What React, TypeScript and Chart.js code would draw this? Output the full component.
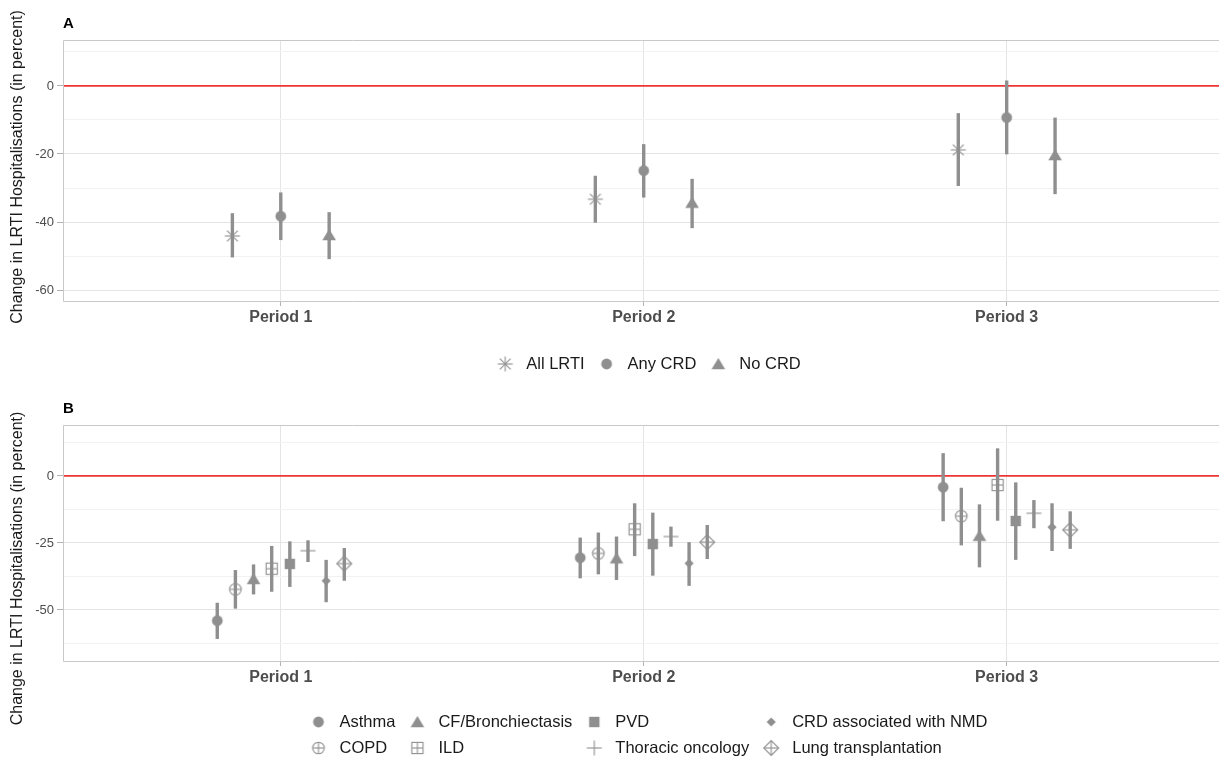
import React, { useEffect, useRef } from 'react';
import { Chart, registerables } from 'chart.js';

Chart.register(...registerables);

// ---------- data ----------
const periods = ['Period 1', 'Period 2', 'Period 3'];
const periodPositions = [1, 2, 3];

// Panel A
const allLrtiEst = [-44.1, -33.3, -18.8];
const allLrtiLo = [-50.4, -40.2, -29.4];
const allLrtiHi = [-37.4, -26.4, -8.0];

const anyCrdEst = [-38.3, -24.9, -9.3];
const anyCrdLo = [-45.3, -32.8, -20.1];
const anyCrdHi = [-31.3, -17.1, 1.6];

const noCrdEst = [-43.8, -34.3, -20.3];
const noCrdLo = [-50.9, -41.8, -31.8];
const noCrdHi = [-37.1, -27.3, -9.3];

// Panel B
const asthmaEst = [-54.0, -30.5, -4.2];
const asthmaLo = [-60.8, -38.2, -16.9];
const asthmaHi = [-47.3, -23.0, 8.5];

const copdEst = [-42.3, -28.9, -15.0];
const copdLo = [-49.5, -36.7, -25.9];
const copdHi = [-35.1, -21.1, -4.4];

const cfEst = [-38.4, -30.7, -22.3];
const cfLo = [-44.2, -38.8, -34.1];
const cfHi = [-33.0, -22.6, -10.6];

const ildEst = [-34.6, -19.9, -3.4];
const ildLo = [-43.2, -29.9, -16.7];
const ildHi = [-26.1, -10.2, 10.3];

const pvdEst = [-32.8, -25.4, -16.8];
const pvdLo = [-41.4, -37.2, -31.3];
const pvdHi = [-24.4, -13.7, -2.4];

const thoracicEst = [-27.9, -22.6, -13.9];
const thoracicLo = [-32.1, -26.4, -19.5];
const thoracicHi = [-24.0, -18.9, -9.0];

const nmdEst = [-39.1, -32.6, -19.1];
const nmdLo = [-47.1, -41.0, -28.0];
const nmdHi = [-31.3, -24.7, -10.2];

const lungEst = [-32.7, -24.7, -20.1];
const lungLo = [-39.1, -31.0, -27.2];
const lungHi = [-26.9, -18.3, -13.2];

// ticks
const aTickValues = [-60, -50, -40, -30, -20, -10, 0, 10];
const aTickLabels = [-60, -40, -20, 0];
const bTickValues = [-62.5, -50, -37.5, -25, -12.5, 0, 12.5];
const bTickLabels = [-50, -25, 0];

const referenceValue = 0;
const yTitle = 'Change in LRTI Hospitalisations (in percent)';

// ---------- styles ----------
const FONT = '"Liberation Sans", Arial, Helvetica, sans-serif';
const GREY = '#8f8f8f';
const DODGE = 0.4;
const X_MIN = 0.4;
const X_MAX = 3.585;

type MarkerKind =
  | 'star' | 'circle' | 'triangle' | 'circlePlus' | 'squarePlus'
  | 'square' | 'plus' | 'diamond' | 'diamondPlus';

function makeMarker(kind: MarkerKind): HTMLCanvasElement {
  const c = document.createElement('canvas');
  const S = 20;
  c.width = S;
  c.height = S;
  const g = c.getContext('2d')!;
  const m = S / 2;
  g.fillStyle = GREY;
  g.strokeStyle = GREY;
  g.lineWidth = 1.1;
  const line = (x1: number, y1: number, x2: number, y2: number) => {
    g.beginPath();
    g.moveTo(x1, y1);
    g.lineTo(x2, y2);
    g.stroke();
  };
  switch (kind) {
    case 'star': {
      const r = 7.5;
      const d = r * 0.72;
      line(m - r, m, m + r, m);
      line(m, m - r, m, m + r);
      line(m - d, m - d, m + d, m + d);
      line(m - d, m + d, m + d, m - d);
      break;
    }
    case 'circle':
      g.beginPath();
      g.arc(m, m, 5.4, 0, Math.PI * 2);
      g.fill();
      break;
    case 'triangle':
      g.beginPath();
      g.moveTo(m, m - 6);
      g.lineTo(m + 6.8, m + 5.3);
      g.lineTo(m - 6.8, m + 5.3);
      g.closePath();
      g.fill();
      break;
    case 'circlePlus': {
      const r = 5.8;
      g.beginPath();
      g.arc(m, m, r, 0, Math.PI * 2);
      g.stroke();
      line(m - r, m, m + r, m);
      line(m, m - r, m, m + r);
      break;
    }
    case 'squarePlus': {
      const h = 5.6;
      g.strokeRect(m - h, m - h, 2 * h, 2 * h);
      line(m - h, m, m + h, m);
      line(m, m - h, m, m + h);
      break;
    }
    case 'square': {
      const h = 5.2;
      g.fillRect(m - h, m - h, 2 * h, 2 * h);
      break;
    }
    case 'plus': {
      const r = 7.5;
      line(m - r, m, m + r, m);
      line(m, m - r, m, m + r);
      break;
    }
    case 'diamond': {
      const h = 4.6;
      g.beginPath();
      g.moveTo(m, m - h);
      g.lineTo(m + h, m);
      g.lineTo(m, m + h);
      g.lineTo(m - h, m);
      g.closePath();
      g.fill();
      break;
    }
    case 'diamondPlus': {
      const h = 7.4;
      g.beginPath();
      g.moveTo(m, m - h);
      g.lineTo(m + h, m);
      g.lineTo(m, m + h);
      g.lineTo(m - h, m);
      g.closePath();
      g.stroke();
      line(m - h, m, m + h, m);
      line(m, m - h, m, m + h);
      break;
    }
  }
  return c;
}

interface Series {
  name: string;
  est: number[];
  lo: number[];
  hi: number[];
  marker: MarkerKind;
}

const seriesA: Series[] = [
  { name: 'All LRTI', est: allLrtiEst, lo: allLrtiLo, hi: allLrtiHi, marker: 'star' },
  { name: 'Any CRD', est: anyCrdEst, lo: anyCrdLo, hi: anyCrdHi, marker: 'circle' },
  { name: 'No CRD', est: noCrdEst, lo: noCrdLo, hi: noCrdHi, marker: 'triangle' },
];

const seriesB: Series[] = [
  { name: 'Asthma', est: asthmaEst, lo: asthmaLo, hi: asthmaHi, marker: 'circle' },
  { name: 'COPD', est: copdEst, lo: copdLo, hi: copdHi, marker: 'circlePlus' },
  { name: 'CF/Bronchiectasis', est: cfEst, lo: cfLo, hi: cfHi, marker: 'triangle' },
  { name: 'ILD', est: ildEst, lo: ildLo, hi: ildHi, marker: 'squarePlus' },
  { name: 'PVD', est: pvdEst, lo: pvdLo, hi: pvdHi, marker: 'square' },
  { name: 'Thoracic oncology', est: thoracicEst, lo: thoracicLo, hi: thoracicHi, marker: 'plus' },
  { name: 'CRD associated with NMD', est: nmdEst, lo: nmdLo, hi: nmdHi, marker: 'diamond' },
  { name: 'Lung transplantation', est: lungEst, lo: lungLo, hi: lungHi, marker: 'diamondPlus' },
];

interface PanelCfg {
  tag: string;
  series: Series[];
  legendRows: number;
  legendOffset: number;
  titleShift: number;
  tickValues: number[];
  tickLabels: number[];
  yMin: number;
  yMax: number;
  height: number;
  padTop: number;
  padBottom: number;
}

const panelA: PanelCfg = {
  tag: 'A', series: seriesA, legendRows: 1, legendOffset: 62, titleShift: -4,
  tickValues: aTickValues, tickLabels: aTickLabels,
  yMin: -63.5, yMax: 13.5, height: 392, padTop: 40, padBottom: 60,
};

const panelB: PanelCfg = {
  tag: 'B', series: seriesB, legendRows: 2, legendOffset: 60, titleShift: 25,
  tickValues: bTickValues, tickLabels: bTickLabels,
  yMin: -69.4, yMax: 19.0, height: 366, padTop: 33, padBottom: 66,
};

function makePanelPlugin(cfg: PanelCfg, markers: HTMLCanvasElement[]) {
  return {
    id: 'panelDecor' + cfg.tag,
    beforeDatasetsDraw(chart: any) {
      const { ctx, chartArea: a, scales } = chart;
      const x = scales.x;
      const y = scales.y;
      ctx.save();
      ctx.beginPath();
      ctx.rect(a.left, a.top, a.right - a.left, a.bottom - a.top);
      ctx.clip();
      // reference line
      const y0 = y.getPixelForValue(referenceValue);
      ctx.strokeStyle = '#ee3434';
      ctx.lineWidth = 1.8;
      ctx.beginPath();
      ctx.moveTo(a.left, y0);
      ctx.lineTo(a.right, y0);
      ctx.stroke();
      // error bars
      ctx.strokeStyle = GREY;
      ctx.lineWidth = 3.4;
      ctx.lineCap = 'butt';
      chart.data.datasets.forEach((ds: any) => {
        ds.data.forEach((p: any) => {
          const px = x.getPixelForValue(p.x);
          ctx.beginPath();
          ctx.moveTo(px, y.getPixelForValue(p.lo));
          ctx.lineTo(px, y.getPixelForValue(p.hi));
          ctx.stroke();
        });
      });
      ctx.restore();
    },
    afterDraw(chart: any) {
      const { ctx, chartArea: a } = chart;
      ctx.save();
      // panel border (right edge falls outside the picture)
      ctx.strokeStyle = '#c8c8c8';
      ctx.lineWidth = 1;
      ctx.beginPath();
      ctx.moveTo(a.right, a.top + 0.5);
      ctx.lineTo(a.left + 0.5, a.top + 0.5);
      ctx.lineTo(a.left + 0.5, a.bottom - 0.5);
      ctx.lineTo(a.right, a.bottom - 0.5);
      ctx.stroke();
      // tag
      ctx.fillStyle = '#000';
      ctx.font = `bold 15px ${FONT}`;
      ctx.textBaseline = 'alphabetic';
      ctx.textAlign = 'left';
      ctx.fillText(cfg.tag, a.left, a.top - 12);
      // y title
      ctx.save();
      ctx.translate(18, (a.top + a.bottom) / 2 + cfg.titleShift);
      ctx.rotate(-Math.PI / 2);
      ctx.font = `16px ${FONT}`;
      ctx.fillStyle = '#1a1a1a';
      ctx.textAlign = 'center';
      ctx.textBaseline = 'middle';
      ctx.fillText(yTitle, 0, 0);
      ctx.restore();
      // legend (column-major like ggplot byrow = FALSE)
      ctx.font = `16.5px ${FONT}`;
      ctx.textAlign = 'left';
      const rows = cfg.legendRows;
      const nCols = Math.ceil(cfg.series.length / rows);
      const colWidths: number[] = [];
      for (let c = 0; c < nCols; c++) {
        let w = 0;
        for (let r = 0; r < rows; r++) {
          const s = cfg.series[c * rows + r];
          if (s) w = Math.max(w, ctx.measureText(s.name).width);
        }
        colWidths.push(31 + w);
      }
      const gap = 12;
      const total = colWidths.reduce((t, w) => t + w, 0) + gap * (nCols - 1);
      const cx = 648;
      let x0 = cx - total / 2;
      ctx.fillStyle = '#1a1a1a';
      ctx.textBaseline = 'middle';
      for (let c = 0; c < nCols; c++) {
        for (let r = 0; r < rows; r++) {
          const idx = c * rows + r;
          const s = cfg.series[idx];
          if (!s) continue;
          const yy = a.bottom + cfg.legendOffset + r * 26;
          const mk = markers[idx];
          ctx.drawImage(mk, x0 + 10 - mk.width / 2, yy - mk.height / 2);
          ctx.fillText(s.name, x0 + 31, yy + 0.5);
        }
        x0 += colWidths[c] + gap;
      }
      ctx.restore();
    },
  };
}

function buildConfig(cfg: PanelCfg): any {
  const markers = cfg.series.map((s) => makeMarker(s.marker));
  const n = cfg.series.length;
  const datasets = cfg.series.map((s, i) => {
    const off = (i - (n - 1) / 2) * (DODGE / n);
    return {
      label: s.name,
      data: periodPositions.map((p, k) => ({ x: p + off, y: s.est[k], lo: s.lo[k], hi: s.hi[k] })),
      pointStyle: markers[i],
      pointRadius: 5,
      pointHoverRadius: 5,
      showLine: false,
    };
  });
  const isMajor = (v: number) => cfg.tickLabels.includes(v);
  return {
    type: 'scatter',
    data: { datasets },
    plugins: [makePanelPlugin(cfg, markers)],
    options: {
      animation: false,
      responsive: false,
      events: [],
      layout: {
        autoPadding: false,
        padding: { top: cfg.padTop, left: 0, right: 0, bottom: cfg.padBottom },
      },
      plugins: { legend: { display: false }, tooltip: { enabled: false } },
      scales: {
        x: {
          type: 'linear',
          min: X_MIN,
          max: X_MAX,
          offset: false,
          afterBuildTicks: (s: any) => {
            s.ticks = periodPositions.map((v) => ({ value: v }));
          },
          afterFit: (s: any) => {
            s.height = 30;
          },
          ticks: {
            autoSkip: false,
            maxRotation: 0,
            padding: 2,
            color: '#4d4d4d',
            font: { family: FONT, size: 16, weight: 'bold' },
            callback: (v: number) => {
              const i = periodPositions.indexOf(v);
              return i >= 0 ? periods[i] : '';
            },
          },
          grid: { color: '#e4e4e4', lineWidth: 1, tickColor: '#b3b3b3', tickLength: 4 },
          border: { display: false },
        },
        y: {
          type: 'linear',
          min: cfg.yMin,
          max: cfg.yMax,
          afterBuildTicks: (s: any) => {
            s.ticks = cfg.tickValues.map((v) => ({ value: v }));
          },
          afterFit: (s: any) => {
            s.width = 63;
          },
          ticks: {
            autoSkip: false,
            padding: 3,
            color: '#4d4d4d',
            font: { family: FONT, size: 13 },
            callback: (v: number) => (isMajor(v) ? String(v) : ''),
          },
          grid: {
            color: (c: any) => (c.tick && isMajor(c.tick.value) ? '#e4e4e4' : '#f2f2f2'),
            tickColor: (c: any) => (c.tick && isMajor(c.tick.value) ? '#b3b3b3' : 'rgba(0,0,0,0)'),
            tickLength: 6,
            lineWidth: 1,
          },
          border: { display: false },
          title: { display: false },
        },
      },
    },
  };
}

function Panel({ cfg }: { cfg: PanelCfg }) {
  const ref = useRef<HTMLCanvasElement>(null);
  useEffect(() => {
    if (!ref.current) return;
    const chart = new Chart(ref.current, buildConfig(cfg));
    return () => chart.destroy();
  }, [cfg]);
  return <canvas ref={ref} width={1219} height={cfg.height} style={{ display: 'block' }} />;
}

export default function App() {
  return (
    <div
      style={{
        position: 'absolute',
        left: 0,
        top: 0,
        width: 1219,
        height: 758,
        overflow: 'hidden',
        background: '#ffffff',
      }}
    >
      <Panel cfg={panelA} />
      <Panel cfg={panelB} />
    </div>
  );
}
